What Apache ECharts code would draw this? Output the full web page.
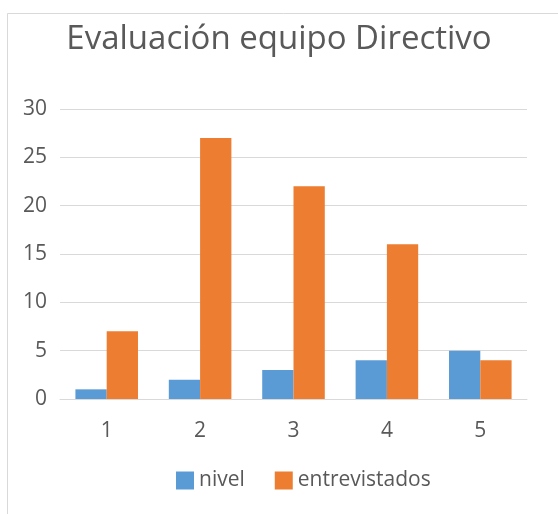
<!DOCTYPE html>
<html>
<head>
<meta charset="utf-8">
<script src="https://cdn.jsdelivr.net/npm/echarts@6/dist/echarts.min.js"></script>
<style>html,body{margin:0;padding:0;background:#fff}#c{width:558px;height:514px}</style>
</head>
<body>
<div id="c"></div>
<script>
const categories = ['1', '2', '3', '4', '5'];
const nivel = [1, 2, 3, 4, 5];
const entrevistados = [7, 27, 22, 16, 4];
const seriesNames = ['nivel', 'entrevistados'];
const titleText = 'Evaluación equipo Directivo';

const font = '"Open Sans", "Noto Sans", sans-serif';
const chart = echarts.init(document.getElementById('c'), null, {renderer: 'canvas'});
chart.setOption({
  backgroundColor: '#fff',
  animation: false,
  graphic: [{
    type: 'rect', left: 5, top: 11,
    shape: {width: 600, height: 600},
    style: {fill: 'none', stroke: '#D9D9D9', lineWidth: 1}
  }],
  title: {
    text: titleText, left: 'center', top: 18,
    textStyle: {fontFamily: font, fontSize: 33, fontWeight: 'normal', color: '#595959'}
  },
  legend: {
    data: seriesNames, top: 465, left: 171,
    itemWidth: 18, itemHeight: 18, itemGap: 30,
    icon: 'rect',
    textStyle: {fontFamily: font, fontSize: 21, color: '#595959'}
  },
  grid: {left: 60, right: 31, top: 109, bottom: 115, containLabel: false},
  xAxis: {
    type: 'category', data: categories,
    axisLine: {show: true, lineStyle: {color: '#D9D9D9', width: 1}},
    axisTick: {show: false},
    axisLabel: {fontFamily: font, fontSize: 21, color: '#595959', margin: 22}
  },
  yAxis: {
    type: 'value', min: 0, max: 30, interval: 5,
    axisLine: {show: false}, axisTick: {show: false},
    splitLine: {lineStyle: {color: '#D9D9D9', width: 1}},
    axisLabel: {fontFamily: font, fontSize: 21, color: '#595959', margin: 13}
  },
  series: [
    {name: seriesNames[0], type: 'bar', data: nivel, barGap: '0%', barCategoryGap: '33%',
     itemStyle: {color: '#5B9BD5'}},
    {name: seriesNames[1], type: 'bar', data: entrevistados, barGap: '0%', barCategoryGap: '33%',
     itemStyle: {color: '#ED7D31'}}
  ]
});
</script>
</body>
</html>
